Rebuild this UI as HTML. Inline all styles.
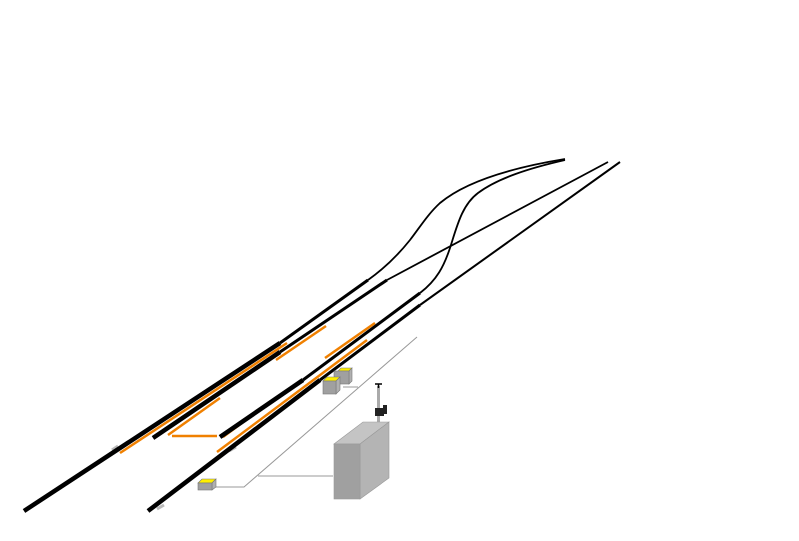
<!DOCTYPE html>
<html><head><meta charset="utf-8"><style>html,body{margin:0;padding:0;background:#fff}svg{display:block}</style></head>
<body>
<svg width="799" height="541" viewBox="0 0 799 541" xmlns="http://www.w3.org/2000/svg">
<rect width="799" height="541" fill="#fff"/>
<!-- gray cables -->
<g stroke="#999" stroke-width="1" fill="none">
<path d="M417,337 L244,487 L214,487"/>
<path d="M258,476 L333,476"/>
<path d="M343,387 L358,387"/>
</g>
<!-- gray end marks -->
<g stroke="#bbb" stroke-width="3">
<path d="M112,450 L118,446"/><path d="M229,451 L236,447"/><path d="M157,509 L164,505"/>
</g>
<!-- orange stripes -->
<g stroke="#f08000" stroke-width="2.5" fill="none">
<path d="M120,453 L287,343"/>
<path d="M168,435 L220,398"/>
<path d="M276,360 L326,326"/>
<path d="M172,436 L217,436"/>
<path d="M223,437 L277,397"/>
<path d="M217,452 L367,340"/>
<path d="M325,358 L375,323"/>
</g>
<!-- rails -->
<g stroke="#000" fill="none" stroke-linecap="butt" stroke-linejoin="round">
<path d="M24,511 L280,343" stroke-width="4.5"/>
<path d="M280,343 L368,280" stroke-width="3"/>
<path d="M368,280 C385,268 398,255 410,240 C420,227 428,214 440,203 C465,182 510,168 565,159" stroke-width="1.8"/>
<path d="M153,438 L280,352" stroke-width="4.5"/>
<path d="M280,352 L387,280" stroke-width="3"/>
<path d="M387,280 L608,162" stroke-width="1.8"/>
<path d="M148,511 L320,380" stroke-width="4.5"/>
<path d="M320,380 L420,305" stroke-width="3"/>
<path d="M420,305 L620,162" stroke-width="2"/>
<path d="M220,437 L303,380" stroke-width="4.5"/>
<path d="M303,380 L420,293" stroke-width="3"/>
<path d="M420,293 C437,280 444,266 450,248 C457,226 462,205 478,193 C498,178 530,168 565,160" stroke-width="1.8"/>
</g>
<!-- sensor boxes -->
<g stroke="#777" stroke-width="0.6">
<polygon points="338,371 341,368 352,368 349,371" fill="#ffef00"/>
<polygon points="349,371 352,368 352,381 349,384" fill="#b0b0b0"/>
<rect x="334" y="371" width="15" height="13" fill="#a0a0a0"/>
<polygon points="323,381 327,377 340,377 336,381" fill="#ffef00"/>
<polygon points="336,381 340,377 340,390 336,394" fill="#b0b0b0"/>
<rect x="323" y="381" width="13" height="13" fill="#a0a0a0"/>
<polygon points="198,483 202,479 216,479 212,483" fill="#ffef00"/>
<polygon points="212,483 216,479 216,487 212,490" fill="#b0b0b0"/>
<rect x="198" y="483" width="14" height="7" fill="#a0a0a0"/>
</g>
<!-- pole -->
<rect x="377" y="386" width="3" height="37" fill="#aaa"/>
<path d="M375,384 L382,384 M378.5,384 L378.5,388" stroke="#000" stroke-width="1.5"/>
<rect x="375" y="408" width="9" height="8" fill="#222"/>
<rect x="383" y="405" width="4" height="9" fill="#222"/>
<!-- cabinet -->
<polygon points="334,444 360,444 389,422 363,422" fill="#c4c4c4" stroke="#999" stroke-width="0.6"/>
<polygon points="360,444 389,422 389,478 360,499" fill="#b4b4b4" stroke="#999" stroke-width="0.6"/>
<rect x="334" y="444" width="26" height="55" fill="#a0a0a0" stroke="#999" stroke-width="0.6"/>
</svg>
</body></html>
